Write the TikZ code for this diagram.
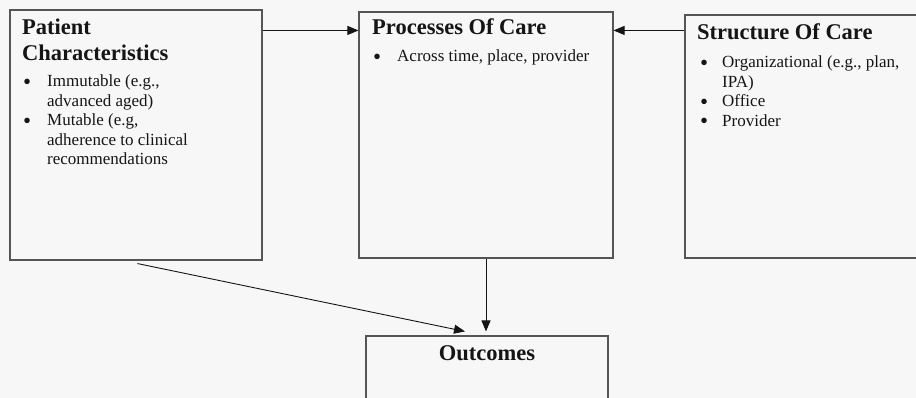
\documentclass[tikz,border=0pt]{standalone}
\usepackage{fontspec}
\setmainfont{Liberation Serif}
\usetikzlibrary{arrows.meta}
\definecolor{paper}{HTML}{F7F7F7}
\definecolor{frame}{HTML}{555555}
\definecolor{ink}{HTML}{151515}
\newcommand{\dotmark}{\smash{\raisebox{-2.2pt}{\scalebox{1.35}{\textbullet}}}}
\begin{document}
\begin{tikzpicture}[x=1pt,y=-1pt,
  box/.style={draw=frame,line width=1.1pt,rectangle,inner sep=0pt},
  heading/.style={anchor=base west,inner sep=0pt,text=ink,align=left,
    font=\fontsize{22.5}{26}\selectfont\bfseries},
  items/.style={anchor=base west,inner sep=0pt,text=ink,
    font=\fontsize{17}{19.5}\selectfont},
  arr/.style={draw=ink,line width=0.9pt,-{Triangle[length=11pt,width=9pt]}}]
  \fill[paper] (0,0) rectangle (916,398);
  \useasboundingbox (0,0) rectangle (916,398);
  \clip (0,0) rectangle (916,398);

  % the four boxes
  \node[box,minimum width=252pt,minimum height=250pt] (pat) at (136,135) {};
  \node[box,minimum width=254pt,minimum height=246pt] (proc) at (486,135) {};
  \node[box,minimum width=254pt,minimum height=243pt] (str) at (812,136.5) {};
  \node[box,minimum width=242pt,minimum height=124pt] (out) at (487,398) {};

  % box contents (a multi-line heading sits on the baseline of its last line)
  \node[heading] (patT) at (22,61) {Patient\\Characteristics};
  \node[items] (patL) at (23,87) {\begin{tabular}[t]{@{}p{24pt}@{}l@{}}
    \dotmark & Immutable (e.g.,\\ & advanced aged)\\
    \dotmark & Mutable (e.g,\\ & adherence to clinical\\ & recommendations
    \end{tabular}};

  \node[heading] (procT) at (372,35) {Processes Of Care};
  \node[items] (procL) at (373,62) {\begin{tabular}[t]{@{}p{24pt}@{}l@{}}
    \dotmark & Across time, place, provider
    \end{tabular}};

  \node[heading] (strT) at (697,40) {Structure Of Care};
  \node[items] (strL) at (700,68) {\begin{tabular}[t]{@{}p{22pt}@{}l@{}}
    \dotmark & Organizational (e.g., plan,\\ & IPA)\\
    \dotmark & Office\\ \dotmark & Provider
    \end{tabular}};

  \node[heading,anchor=base] (outT) at (487,360) {Outcomes};

  % connectors
  \path (pat.north east) ++(0,21) coordinate (pa);
  \draw[arr] (pa) -- (pa -| proc.west);
  \path (str.north west) ++(0,16) coordinate (sa);
  \draw[arr] (sa) -- (sa -| proc.east);
  \draw[arr,shorten >=4pt] (proc.south) -- (proc.south |- out.north);
  \path (pat.south west) ++(128,3) coordinate (pd);
  \draw[arr] (pd) -- ([shift={(-22,-4)}]out.north);
\end{tikzpicture}
\end{document}
